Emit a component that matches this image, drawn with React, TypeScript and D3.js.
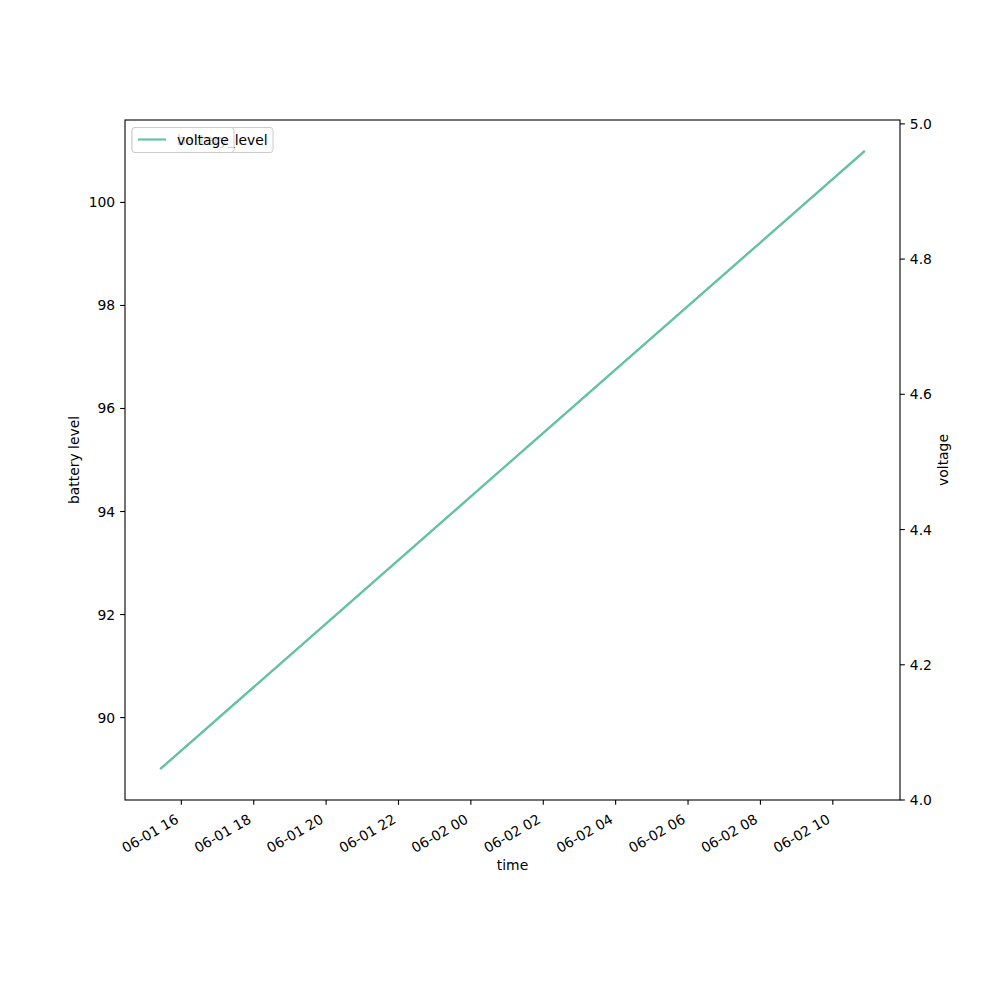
import React from "react";
import * as d3 from "d3";

const times = ["2024-06-01T15:25:00", "2024-06-02T10:53:00"];
const batteryLevel = [89, 101];
const voltage = [4.0458, 4.96];
const xTicks = [
  "2024-06-01T16:00:00", "2024-06-01T18:00:00", "2024-06-01T20:00:00", "2024-06-01T22:00:00",
  "2024-06-02T00:00:00", "2024-06-02T02:00:00", "2024-06-02T04:00:00", "2024-06-02T06:00:00",
  "2024-06-02T08:00:00", "2024-06-02T10:00:00",
];
const leftTicks = [90, 92, 94, 96, 98, 100];
const rightTicks = [4.0, 4.2, 4.4, 4.6, 4.8, 5.0];

const L = 125, R = 900, T = 120, B = 800;
const FS = 13.9;
const COLOR = "#66c2a5";
const FONT = "DejaVu Sans, sans-serif";

function padDomain(vals: number[]): [number, number] {
  const mn = d3.min(vals)!, mx = d3.max(vals)!;
  const m = (mx - mn) * 0.05;
  return [mn - m, mx + m];
}

export default function App() {
  const parse = (s: string) => new Date(s);
  const tvals = times.map(parse);
  const tnum = tvals.map((d) => d.getTime());
  const [t0, t1] = padDomain(tnum);
  const x = d3.scaleTime().domain([new Date(t0), new Date(t1)]).range([L, R]);
  const yL = d3.scaleLinear().domain(padDomain(batteryLevel)).range([B, T]);
  const vd = padDomain(voltage);
  const yR = d3.scaleLinear().domain([4.0, vd[1]]).range([B, T]);
  const fmt = d3.timeFormat("%m-%d %H");

  const lineL = d3.line<number>().x((_, i) => x(tvals[i])).y((v) => yL(v));
  const lineR = d3.line<number>().x((_, i) => x(tvals[i])).y((v) => yR(v));
  const tick = 4.86;

  return (
    <svg width={1000} height={1000} style={{ display: "block", position: "absolute", left: 0, top: 0 }} fontFamily={FONT}>
      <rect x={0} y={0} width={1000} height={1000} fill="white" />
      <path d={lineL(batteryLevel) || ""} fill="none" stroke={COLOR} strokeWidth={2.08} />
      <path d={lineR(voltage) || ""} fill="none" stroke={COLOR} strokeWidth={2.08} />
      <rect x={L} y={T} width={R - L} height={B - T} fill="none" stroke="black" strokeWidth={1.1} />
      {xTicks.map((s) => {
        const d = parse(s);
        const px = x(d);
        return (
          <g key={s}>
            <line x1={px} x2={px} y1={B} y2={B + tick} stroke="black" strokeWidth={1.1} />
            <text transform={`translate(${px},${B + 25}) rotate(-30)`} textAnchor="end" dy="-0.24em" fontSize={FS}>{fmt(d)}</text>
          </g>
        );
      })}
      {leftTicks.map((v) => (
        <g key={v}>
          <line x1={L} x2={L - tick} y1={yL(v)} y2={yL(v)} stroke="black" strokeWidth={1.1} />
          <text x={L - 9.8} y={yL(v)} textAnchor="end" dominantBaseline="central" fontSize={FS}>{v}</text>
        </g>
      ))}
      {rightTicks.map((v) => (
        <g key={v}>
          <line x1={R} x2={R + tick} y1={yR(v)} y2={yR(v)} stroke="black" strokeWidth={1.1} />
          <text x={R + 9.8} y={yR(v)} textAnchor="start" dominantBaseline="central" fontSize={FS}>{v.toFixed(1)}</text>
        </g>
      ))}
      <text x={(L + R) / 2} y={870} textAnchor="middle" fontSize={FS}>time</text>
      <text transform={`translate(79,${(T + B) / 2}) rotate(-90)`} textAnchor="middle" fontSize={FS}>battery level</text>
      <text transform={`translate(948,${(T + B) / 2}) rotate(-90)`} textAnchor="middle" fontSize={FS}>voltage</text>
      {/* battery legend */}
      <g>
        <rect x={132} y={127.5} width={141} height={25} rx={3} fill="white" fillOpacity={0.8} stroke="#cccccc" strokeWidth={1} />
        <line x1={138} x2={166} y1={139.5} y2={139.5} stroke={COLOR} strokeWidth={2.08} />
        <text x={177} y={139.5} dominantBaseline="central" fontSize={FS}>battery_level</text>
      </g>
      {/* voltage legend */}
      <g>
        <rect x={132} y={127.5} width={102} height={25} rx={3} fill="white" fillOpacity={0.8} stroke="#cccccc" strokeWidth={1} />
        <line x1={138} x2={166} y1={139.5} y2={139.5} stroke={COLOR} strokeWidth={2.08} />
        <text x={177} y={139.5} dominantBaseline="central" fontSize={FS}>voltage</text>
      </g>
    </svg>
  );
}
